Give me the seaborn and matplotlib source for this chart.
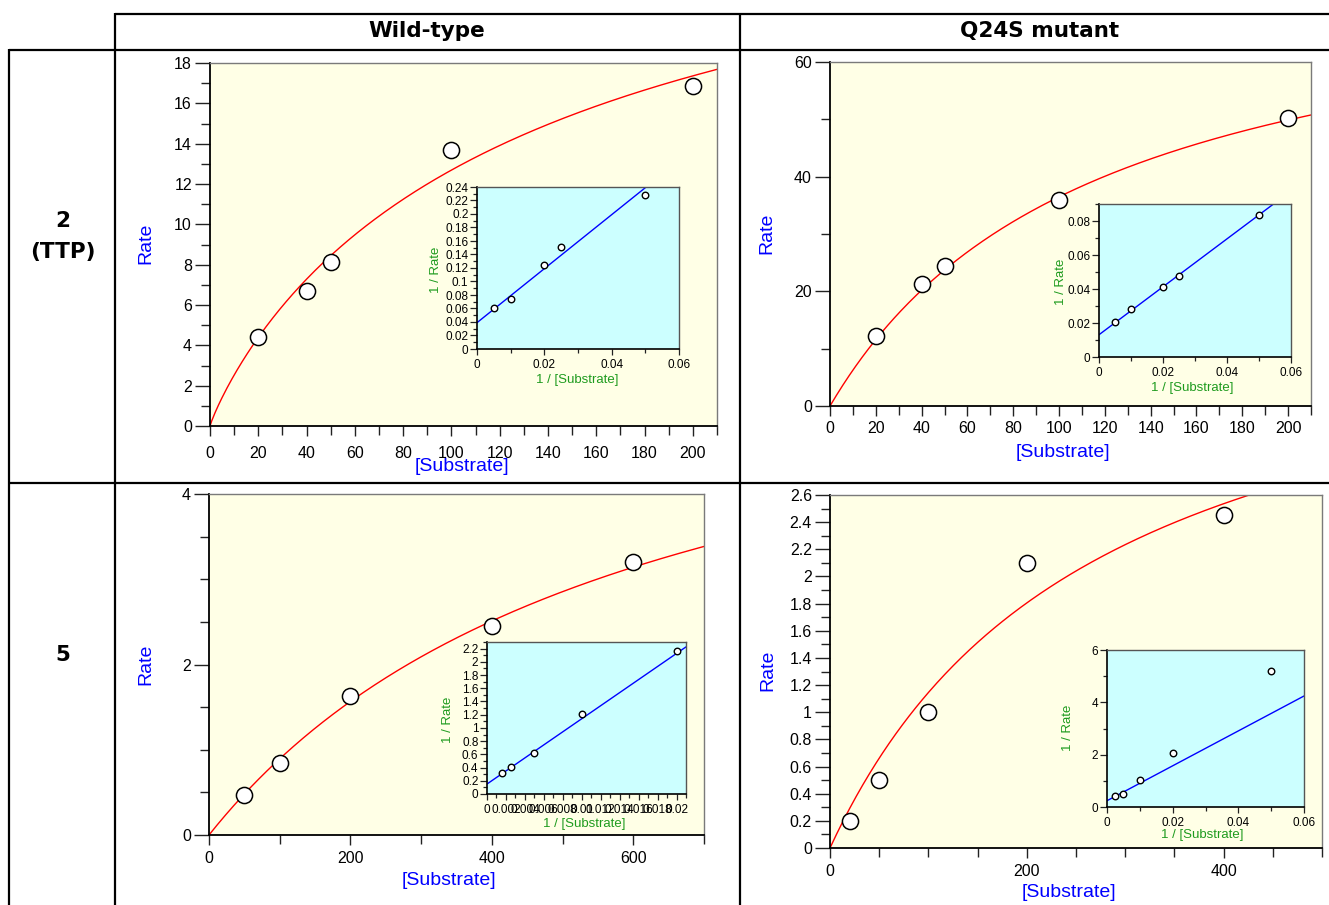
import numpy as np
import pandas as pd
import matplotlib
matplotlib.use("Agg")
import matplotlib.pyplot as plt
from matplotlib.lines import Line2D
from matplotlib.ticker import MultipleLocator, FuncFormatter
import seaborn as sns

# ---------------- data ----------------
col_titles = ["Wild-type", "Q24S mutant"]
row_titles = [["2", "(TTP)"], ["5"]]

# row 1, wild-type
wt_ttp_s = [20, 40, 50, 100, 200]
wt_ttp_rate = [4.4, 6.7, 8.15, 13.7, 16.85]
wt_ttp_inv_s = [0.005, 0.01, 0.02, 0.025, 0.05]
wt_ttp_inv_rate = [0.060, 0.074, 0.124, 0.151, 0.228]
# row 1, Q24S
mu_ttp_s = [20, 40, 50, 100, 200]
mu_ttp_rate = [12.2, 21.2, 24.4, 36.0, 50.2]
mu_ttp_inv_s = [0.005, 0.01, 0.02, 0.025, 0.05]
mu_ttp_inv_rate = [0.0203, 0.0281, 0.0412, 0.0474, 0.0833]
# row 2, wild-type
wt_5_s = [50, 100, 200, 400, 600]
wt_5_rate = [0.47, 0.84, 1.63, 2.45, 3.2]
wt_5_inv_s = [0.00163, 0.0025, 0.005, 0.01, 0.02]
wt_5_inv_rate = [0.318, 0.414, 0.62, 1.21, 2.16]
# row 2, Q24S
mu_5_s = [20, 50, 100, 200, 400]
mu_5_rate = [0.2, 0.5, 1.0, 2.1, 2.45]
mu_5_inv_s = [0.0025, 0.005, 0.01, 0.02, 0.05]
mu_5_inv_rate = [0.43, 0.51, 1.03, 2.06, 5.21]

# fitted curve parameters (Vmax, K, hill n) and reciprocal-plot lines (intercept, slope)
curve_vmax = [30.2, 78.8, 6.32, 4.26]
curve_k = [143, 116, 607, 272]
curve_n = [0.9, 1.0, 1.0, 1.0]
lb_intercept = [0.039, 0.0131, 0.151, 0.24]
lb_slope = [4.0, 1.41, 98.8, 66.7]

# ---------------- figure ----------------
sns.set_theme(style="ticks")
plt.rcParams["font.family"] = ["Liberation Sans", "DejaVu Sans"]
plt.rcParams["text.color"] = "black"
plt.rcParams["xtick.color"] = "#222222"
plt.rcParams["ytick.color"] = "#222222"
plt.rcParams["xtick.labelcolor"] = "black"
plt.rcParams["ytick.labelcolor"] = "black"

W, H = 1329, 905
fig = plt.figure(figsize=(W / 100, H / 100), dpi=100)
fig.patch.set_facecolor("white")


def px_rect(l, t, r, b):
    return [l / W, 1 - b / H, (r - l) / W, (b - t) / H]


fmt = FuncFormatter(lambda v, p: f"{round(v, 6):g}")

panels = [
    dict(s=wt_ttp_s, v=wt_ttp_rate, is_=wt_ttp_inv_s, iv=wt_ttp_inv_rate,
         rect=(210, 63, 717, 426), xlim=(0, 210), ylim=(0, 18), xmaj=20, xmin=10, ymaj=2, ymin=1,
         xpad=7, ylab=(-0.126, 0.504), xlab=(0.497, -0.112),
         irect=(477, 187, 679, 349), ixlim=(0, 0.06), iylim=(0, 0.24), ixmaj=0.02, ixmin=0.01,
         iymaj=0.02, iymin=0.01, iylab=(-0.203, 0.49), ixlab=(0.495, -0.19)),
    dict(s=mu_ttp_s, v=mu_ttp_rate, is_=mu_ttp_inv_s, iv=mu_ttp_inv_rate,
         rect=(830, 62, 1311, 406), xlim=(0, 210), ylim=(0, 60), xmaj=20, xmin=10, ymaj=20, ymin=10,
         xpad=3.5, ylab=(-0.131, 0.503), xlab=(0.484, -0.134),
         irect=(1099, 204, 1291, 357), ixlim=(0, 0.06), iylim=(0, 0.09), ixmaj=0.02, ixmin=0.01,
         iymaj=0.02, iymin=0.01, iylab=(-0.198, 0.49), ixlab=(0.484, -0.20)),
    dict(s=wt_5_s, v=wt_5_rate, is_=wt_5_inv_s, iv=wt_5_inv_rate,
         rect=(209, 494, 704, 835), xlim=(0, 700), ylim=(0, 4), xmaj=200, xmin=100, ymaj=2, ymin=0.5,
         xpad=4.5, ylab=(-0.127, 0.5), xlab=(0.484, -0.132),
         irect=(487, 642, 686, 794), ixlim=(0, 0.021), iylim=(0, 2.3), ixmaj=0.002, ixmin=0.001,
         iymaj=0.2, iymin=0.1, iylab=(-0.197, 0.487), ixlab=(0.49, -0.197)),
    dict(s=mu_5_s, v=mu_5_rate, is_=mu_5_inv_s, iv=mu_5_inv_rate,
         rect=(830, 495, 1322, 848), xlim=(0, 500), ylim=(0, 2.6), xmaj=200, xmin=50, ymaj=0.2, ymin=0.1,
         xpad=4.5, ylab=(-0.126, 0.504), xlab=(0.486, -0.127),
         irect=(1107, 650, 1304, 807), ixlim=(0, 0.06), iylim=(0, 6), ixmaj=0.02, ixmin=0.01,
         iymaj=2, iymin=1, iylab=(-0.198, 0.503), ixlab=(0.482, -0.18)),
]

GREEN = "#1E9B1E"

for i, p in enumerate(panels):
    ax = fig.add_axes(px_rect(*p["rect"]))
    ax.set_facecolor("#FFFFE6")
    # fitted curve
    xs = np.linspace(0, p["xlim"][1], 300)
    n = curve_n[i]
    ys = curve_vmax[i] * xs ** n / (curve_k[i] ** n + xs ** n)
    sns.lineplot(x=xs, y=ys, ax=ax, color="red", linewidth=1.0, estimator=None, sort=False, zorder=2)
    sns.scatterplot(x=p["s"], y=p["v"], ax=ax, s=135, color="white", edgecolor="black",
                    linewidth=1.1, zorder=3)
    ax.set_xlim(*p["xlim"])
    ax.set_ylim(*p["ylim"])
    ax.xaxis.set_major_locator(MultipleLocator(p["xmaj"]))
    ax.xaxis.set_minor_locator(MultipleLocator(p["xmin"]))
    ax.yaxis.set_major_locator(MultipleLocator(p["ymaj"]))
    ax.yaxis.set_minor_locator(MultipleLocator(p["ymin"]))
    ax.xaxis.set_major_formatter(fmt)
    ax.yaxis.set_major_formatter(fmt)
    ax.tick_params(axis="y", which="major", direction="out", length=10.5, width=1.0,
                   labelsize=11.5, pad=2.5, color="#222222", labelcolor="black")
    ax.tick_params(axis="y", which="minor", direction="out", length=6.5, width=1.0, color="#222222")
    ax.tick_params(axis="x", which="major", direction="out", length=7.2, width=1.0,
                   labelsize=11.5, pad=p["xpad"], color="#222222", labelcolor="black")
    ax.tick_params(axis="x", which="minor", direction="out", length=6.5, width=1.0, color="#222222")
    for side in ["left", "bottom"]:
        ax.spines[side].set_color("black")
        ax.spines[side].set_linewidth(1.3)
    for side in ["top", "right"]:
        ax.spines[side].set_color("#7a7a7a")
        ax.spines[side].set_linewidth(1.0)
    ax.set_ylabel("Rate", color="#0000FF", fontsize=14)
    ax.set_xlabel("[Substrate]", color="#0000FF", fontsize=14)
    ax.yaxis.set_label_coords(*p["ylab"])
    ax.xaxis.set_label_coords(*p["xlab"])
    ax.yaxis.label.set_va("center")
    ax.xaxis.label.set_va("center")

    # inset Lineweaver-Burk plot
    ia = fig.add_axes(px_rect(*p["irect"]))
    ia.set_facecolor("#CCFFFF")
    lx = np.linspace(0, p["ixlim"][1], 50)
    ly = lb_intercept[i] + lb_slope[i] * lx
    sns.lineplot(x=lx, y=ly, ax=ia, color="#0000FF", linewidth=1.0, estimator=None, sort=False, zorder=2)
    sns.scatterplot(x=p["is_"], y=p["iv"], ax=ia, s=22, color="white", edgecolor="black",
                    linewidth=1.0, zorder=3)
    ia.set_xlim(*p["ixlim"])
    ia.set_ylim(*p["iylim"])
    ia.xaxis.set_major_locator(MultipleLocator(p["ixmaj"]))
    ia.xaxis.set_minor_locator(MultipleLocator(p["ixmin"]))
    ia.yaxis.set_major_locator(MultipleLocator(p["iymaj"]))
    ia.yaxis.set_minor_locator(MultipleLocator(p["iymin"]))
    ia.xaxis.set_major_formatter(fmt)
    ia.yaxis.set_major_formatter(fmt)
    ia.tick_params(axis="y", which="major", direction="out", length=5, width=0.9,
                   labelsize=8.5, pad=1.2, color="#222222", labelcolor="black")
    ia.tick_params(axis="y", which="minor", direction="out", length=3, width=0.9, color="#222222")
    ia.tick_params(axis="x", which="major", direction="out", length=4.5, width=0.9,
                   labelsize=8.5, pad=2.5, color="#222222", labelcolor="black")
    ia.tick_params(axis="x", which="minor", direction="out", length=2.8, width=0.9, color="#222222")
    for side in ["left", "bottom"]:
        ia.spines[side].set_color("black")
        ia.spines[side].set_linewidth(1.2)
    for side in ["top", "right"]:
        ia.spines[side].set_color("#555555")
        ia.spines[side].set_linewidth(1.0)
    ia.set_ylabel("1 / Rate", color=GREEN, fontsize=9.5)
    ia.set_xlabel("1 / [Substrate]", color=GREEN, fontsize=9.5)
    ia.yaxis.set_label_coords(*p["iylab"])
    ia.xaxis.set_label_coords(*p["ixlab"])
    ia.yaxis.label.set_va("center")
    ia.xaxis.label.set_va("center")


# ---------------- table grid ----------------
def hline(y, x0, x1):
    fig.add_artist(Line2D([x0 / W, x1 / W], [1 - y / H, 1 - y / H], transform=fig.transFigure,
                          color="black", linewidth=1.6, solid_capstyle="butt"))


def vline(x, y0, y1):
    fig.add_artist(Line2D([x / W, x / W], [1 - y0 / H, 1 - y1 / H], transform=fig.transFigure,
                          color="black", linewidth=1.6, solid_capstyle="butt"))


hline(14, 115, W)
hline(50, 9, W)
hline(483, 9, W)
vline(115, 13, H)
vline(740, 13, H)
vline(9, 49, H)

title_kw = dict(ha="center", va="center", fontweight="bold", color="black", family=["DejaVu Sans"])
fig.text(427 / W, 1 - 31 / H, col_titles[0], fontsize=15.5, **title_kw)
fig.text(1040 / W, 1 - 31 / H, col_titles[1], fontsize=15.5, **title_kw)
fig.text(63 / W, 1 - 221 / H, row_titles[0][0], fontsize=15.5, **title_kw)
fig.text(63 / W, 1 - 252 / H, row_titles[0][1], fontsize=15.5, **title_kw)
fig.text(63 / W, 1 - 655 / H, row_titles[1][0], fontsize=15.5, **title_kw)

fig.savefig("out.png", dpi=100, facecolor="white")
